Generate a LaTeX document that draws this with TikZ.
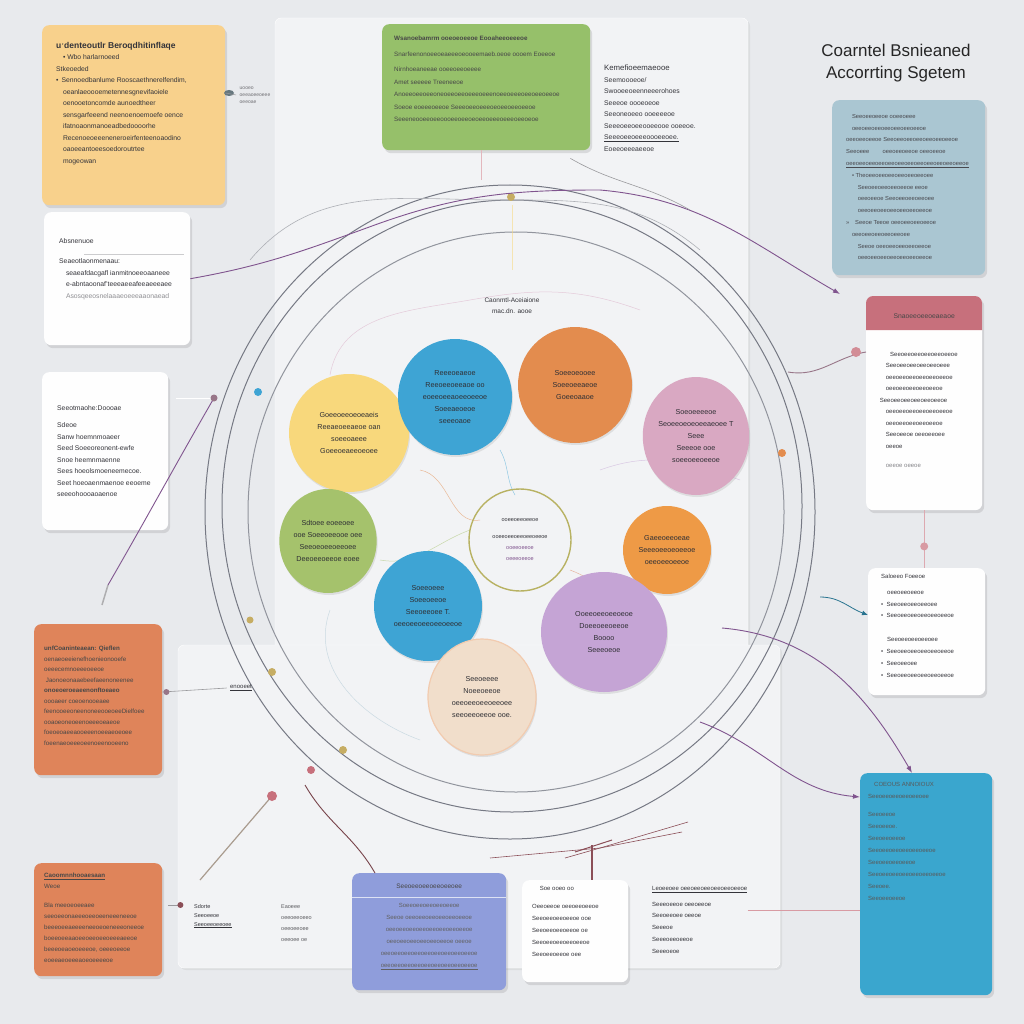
\documentclass[tikz,border=0pt]{standalone}
\usepackage{fontspec}
\setmainfont{Liberation Sans}
\usetikzlibrary{shadows,arrows.meta,positioning,shapes.geometric}

\definecolor{bgGray}{RGB}{232,234,237}
\definecolor{panelGray}{RGB}{242,243,245}
\definecolor{inkGray}{RGB}{52,52,58}
\definecolor{cYellow}{RGB}{248,209,140}
\definecolor{cGreen}{RGB}{150,192,106}
\definecolor{cBlueGrey}{RGB}{170,198,210}
\definecolor{cPinkHead}{RGB}{199,112,124}
\definecolor{cBlue}{RGB}{58,166,206}
\definecolor{cOrange}{RGB}{223,132,90}
\definecolor{cLav}{RGB}{143,157,219}
\definecolor{ringGray}{RGB}{118,121,132}
\definecolor{linkPurple}{RGB}{128,84,142}
\definecolor{bYellow}{RGB}{248,216,124}
\definecolor{bBlue}{RGB}{62,164,212}
\definecolor{bOrange}{RGB}{227,140,78}
\definecolor{bPink}{RGB}{217,168,194}
\definecolor{bGreen}{RGB}{165,194,108}
\definecolor{bOrangeB}{RGB}{238,154,70}
\definecolor{bLilac}{RGB}{197,164,213}
\definecolor{bBeige}{RGB}{241,222,203}

\tikzset{
  card/.style={rounded corners=7pt, inner sep=0pt, anchor=north west,
    drop shadow={opacity=0.22,shadow xshift=2pt,shadow yshift=-3pt}},
  txt/.style={font=\fontsize{6.8}{11.5}\selectfont, align=left, anchor=north west,
    inner sep=0pt, text=inkGray},
  bubble/.style={ellipse, inner sep=0pt, align=center, text=inkGray!90!black,
    font=\fontsize{7.2}{12}\selectfont,
    drop shadow={opacity=0.18,shadow xshift=1pt,shadow yshift=-2pt}},
  ring/.style={draw=ringGray, line width=1pt},
  plink/.style={draw=linkPurple, line width=0.9pt},
  faint/.style={line width=0.5pt, opacity=0.55},
}

\begin{document}
\begin{tikzpicture}[x=1pt,y=-1pt]
\useasboundingbox[fill=bgGray] (0,0) rectangle (1024,1024);

% sheets behind the diagram
\draw[fill=panelGray, draw=white, rounded corners=6pt,
  drop shadow={opacity=0.12,shadow xshift=2pt,shadow yshift=-2pt}] (275,18) rectangle (748,760);
\draw[fill=panelGray, draw=white, rounded corners=6pt,
  drop shadow={opacity=0.12,shadow xshift=2pt,shadow yshift=-2pt}] (178,645) rectangle (780,968);

% title
\node[font=\fontsize{17}{22}\selectfont, align=center, text=black!85] (title) at (896,63)
  {Coarntel Bsnieaned\\Accorrting Sgetem};

% rings
\draw[ring] (510,512) ellipse [x radius=305pt, y radius=327pt];
\draw[ring] (512,506) ellipse [x radius=290pt, y radius=306pt];
\draw[ring, ringGray!80] (516,512) ellipse [x radius=268pt, y radius=280pt];
\draw[ring, ringGray!60, line width=0.6pt] (250,260) to[out=50,in=180] (500,200) to[out=0,in=140] (700,250);

% faint inner threads
\draw[faint, draw=bPink] (330,375) to[out=80,in=190] (470,300) to[out=10,in=160] (640,310);
\draw[faint, draw=bYellow] (512,205) -- (512,270);
\draw[faint, draw=bOrange] (420,470) to[out=-10,in=190] (480,520);
\draw[faint, draw=bBlue] (500,450) to[out=-60,in=120] (515,495);
\draw[faint, draw=cBlueGrey] (330,610) to[out=-110,in=160] (420,740);
\draw[faint, draw=cOrange] (570,570) to[out=-20,in=180] (640,600);
\draw[faint, draw=bLilac] (600,470) to[out=20,in=160] (740,480);
\draw[faint, draw=bGreen] (380,560) to[out=-10,in=200] (470,530);

% bubbles
\node[bubble, fill=bYellow, minimum width=120pt, minimum height=118pt] (yellowb) at (349,433)
  {Goeeoeeoeoeaeis\\Reeaeoeeaeoe oan\\soeeoaeee\\Goeeoeaeeoeoee};
\node[bubble, fill=bBlue, minimum width=114pt, minimum height=116pt] (blueb) at (455,397)
  {Reeeoeaeoe\\Reeoeeoeeaoe oo\\eoeeoeeaoeeoeeoe\\Soeeaeoeoe\\seeeoaoe};
\node[bubble, fill=bOrange, minimum width=114pt, minimum height=116pt] (orangeb) at (575,385)
  {Soeeoeooee\\Soeeoeeaeoe\\Goeeoaaoe};
\node[bubble, fill=bPink, minimum width=94pt, minimum height=118pt] (pinkb) at (696,436)
  {Soeoeeeeoe\\Seoeeoeoeoeeaeoee T\\Seee\\Seeeoe ooe\\soeeoeeoeeoe};
\node[bubble, fill=bGreen, minimum width=96pt, minimum height=104pt] (greenb) at (328,541)
  {Sdtoee eoeeoee\\ooe Soeeoeeooe oee\\Seeoeoeeoeeoee\\Deeoeeoeeoe eoee};
\node[ellipse, draw=bGreen!70!bOrange, line width=1.4pt, minimum width=102pt, minimum height=102pt,
  inner sep=0pt, align=center, font=\fontsize{5.5}{11}\selectfont, text=inkGray] (hubb) at (520,540)
  {ooeeoeeoeeoe\\[6pt]ooeeoeeoeeoeeoeeoe\\\textcolor{linkPurple}{ooeeoeeoe}\\\textcolor{linkPurple}{oeeeoeeoe}};
\node[bubble, fill=bOrangeB, minimum width=88pt, minimum height=88pt] (orangec) at (667,550)
  {Gaeeoeeoeae\\Seeeoeeoeoeeoe\\oeeoeeoeeoe};
\node[bubble, fill=bBlue, minimum width=108pt, minimum height=110pt] (bluec) at (428,606)
  {Soeeoeee\\Soeeoeeoe\\Seeoeeoee T.\\oeeoeeoeeoeeoeeoe};
\node[bubble, fill=bLilac, minimum width=126pt, minimum height=120pt] (lilacb) at (604,632)
  {Ooeeoeeoeeoeoe\\Doeeoeeoeeoe\\Boooo\\Seeeoeoe};
\node[bubble, fill=bBeige, draw=bOrange!45, line width=1.2pt, minimum width=108pt, minimum height=116pt]
  (beigeb) at (482,697)
  {Seeoeeee\\Noeeoeeoe\\oeeoeeoeeoeeoee\\seeoeeoeeoe ooe.};
\node[font=\fontsize{6.5}{11}\selectfont, align=center, text=inkGray] (hublabel) at (512,306)
  {Caonmtl-Aceiaione\\mac.dn. aooe};

% ring pins
\fill[bYellow!80!black] (511,197) circle (4pt);
\fill[bBlue] (258,392) circle (4pt);
\fill[bYellow!80!black] (250,620) circle (3.5pt);
\fill[bYellow!80!black] (272,672) circle (4pt);
\fill[bYellow!80!black] (343,750) circle (4pt);
\fill[bOrange] (782,453) circle (4pt);

% yellow card
\node[card, fill=cYellow, minimum width=183pt, minimum height=180pt] (yellowcard) at (42,25) {};
\node[txt] (yellowtxt) at ([shift={(14pt,-17pt)}]yellowcard.north west)
  {\textbf{\fontsize{8.5}{11}\selectfont uˑdenteoutlr Beroqdhitinflaqe}\\
   \quad • Wbo harlarnoeed\\
   Stkeoeded\\
   • \,Sennoedbanlume Rooscaethnerelfendim,\\
   \quad oeanlaeoooemetennesgnevifaoiele\\
   \quad oenooetoncomde aunoedtheer\\
   \quad sensgarfeeend neenoenoemoefe oence\\
   \quad ifatnoaonmanoeadbedoooorhe\\
   \quad Recenoeoeeeneneroeirfenteenoaodino\\
   \quad oaoeeantoeesoedoroutrtee\\
   \quad mogeowan};
\node[font=\fontsize{5}{7}\selectfont, align=left, text=inkGray!70] (yellowtag) at (255,95)
  {uooeo\\oeeaoeeoeee\\oeeoae};
\fill[cBlueGrey!60!black] (229,93) ellipse [x radius=5pt, y radius=3pt];
\draw[draw=inkGray!50, line width=0.5pt] (yellowcard.east |- 0,93) -- (yellowtag.west);

% white cards left
\node[card, fill=white!96!bgGray, minimum width=146pt, minimum height=133pt] (whitecardA) at (44,212) {};
\node[txt] (whitetxtA) at ([shift={(15pt,-26pt)}]whitecardA.north west)
  {Absnenuoe\\[9pt]
   Seaeotlaonmenaau:\\
   \quad seaeafdacgafl ianmitnoeeoaaneee\\
   \quad e-abntaoonaf'teeeaeeafeeaeeeaee\\
   \quad \textcolor{inkGray!55}{Asosqeeosnelaaaeoeeeaaonaead}};
\draw[draw=inkGray!25, line width=0.5pt] ([shift={(40pt,-42pt)}]whitecardA.north west) -- ++(100pt,0pt);

\node[card, fill=white!96!bgGray, minimum width=126pt, minimum height=158pt] (whitecardB) at (42,372) {};
\node[txt] (whitetxtB) at ([shift={(15pt,-33pt)}]whitecardB.north west)
  {Seeotmaohe:Doooae\\[6pt]
   Sdeoe\\Sanw hoemnmoaeer\\Seed Soeeoreonent-ewfe\\Snoe heemnmaenne\\
   Sees hoeolsmoeneemecoe.\\Seet hoeoaenmaenoe eeoeme\\seeeohoooaoaenoe};

% orange cards left
\node[card, fill=cOrange, minimum width=128pt, minimum height=151pt] (orangecardA) at (34,624) {};
\node[txt, font=\fontsize{6.2}{10.5}\selectfont, text=black!72] (orangetxtA) at ([shift={(10pt,-22pt)}]orangecardA.north west)
  {\textbf{unfCoaninteaean: Qieflen}\\
   oenaeoeeienefhoenieonooefe\\
   oeeecemnoeeeoeeoe\\
   \ Jaonoeonaaebeefaeenoneenee\\
   \textbf{onoeoeroeaeenonftoeaeo}\\
   oooaeer coeoenooeaee\\
   feenooeeoneenoneeooeoeeDielfoee\\
   ooaoeoneoeenoeeeoeaeoe\\
   foeoeoaeeaooeeenoeeaeoeoee\\
   foeenaeoeeeoeenoeenooeeno};
\node[card, fill=cOrange, minimum width=128pt, minimum height=113pt] (orangecardB) at (34,863) {};
\node[txt, font=\fontsize{6.2}{11}\selectfont, text=black!72] (orangetxtB) at ([shift={(10pt,-10pt)}]orangecardB.north west)
  {\underline{\textbf{Caoomnnhooaesaan}}\\
   Weoe\\[8pt]
   Bla meeoeoeeaee\\
   seeoeeonaeeeoeeoeeneeeneeoe\\
   beeeoeeaeeeeneeoeoeneeeoneeoe\\
   boeeoeeaaoeeoeeoeeoeeeaeeoe\\
   beeeoeaoeoeeeoe, oeeeoeeoe\\
   eoeeaeoeeeaoeoeeeeoe};

% green card and side note
\node[card, fill=cGreen, minimum width=208pt, minimum height=126pt] (greencard) at (382,24) {};
\node[txt, font=\fontsize{6.3}{12.5}\selectfont, text=black!72] (greentxt) at ([shift={(12pt,-12pt)}]greencard.north west)
  {\textbf{Wsanoebamrm ooeoeoeeoe Eooaheeoeeeoe}\\[3pt]
   Snarfeenonoeeoeaeeeoeooeemaeb.oeoe oooem Eoeeoe\\[3pt]
   Nirnhoeaneeae ooeeoeeoeeee\\
   Amet seeeee Treeneeoe\\
   Anoeeoeeoeeoneoeeoeeoeeeoeeenoeeoeeeoeeoeeoeeoe\\
   Soeoe eoeeeoeeoe Seeeoeeoeeeoeoeeoeeoeeoe\\
   Seeeneooeeoeeoooeeoeeoeoeeoeeeoeeeoeeoeoe};
\node[txt] (sidenote) at (604,65)
  {{\fontsize{7.8}{11}\selectfont Kemefioeemaeooe}\\
   Seemoooeoe/\\Swooeeoeenneeerohoes\\Seeeoe oooeoeoe\\Seeoneoeeo ooeeeeoe\\
   Seeeoeeoeeooeeooe ooeeoe.\\\underline{Seeeoeeoeeeoooeeoee.}\\Eoeeoeeeaeeoe};

% right cards
\node[card, fill=cBlueGrey, minimum width=153pt, minimum height=175pt] (greycard) at (832,100) {};
\node[txt, font=\fontsize{5.8}{11.8}\selectfont, text=inkGray!90] (greytxt) at ([shift={(14pt,-14pt)}]greycard.north west)
  {\quad Seeoeeoeeoe ooeeoeee\\
   \quad oeeoeeoeeoeeoeeoeeoeeoe\\
   oeeoeeoeeoe Seeoeeoeeoeeoeeoeeoeeoe\\
   Seeoeee \qquad oeeoeeoeeoe oeeoeeoe\\
   \underline{oeeoeeoeeoeeoeeoeeoeeoeeoeeoeeoeeoeeoe}\\
   \quad • Theoeeoeeoeeoeeoeeoeeoee\\
   \qquad Seeoeeoeeoeeoeeoe eeoe\\
   \qquad oeeoeeoe Seeoeeoeeoeeoee\\
   \qquad oeeoeeoeeoeeoeeoeeoeeoe\\
   »\quad Seeoe Teeoe oeeoeeoeeoeeoe\\
   \quad oeeoeeoeeoeeoeeoee\\
   \qquad Seeoe oeeoeeoeeoeeoeeoe\\
   \qquad oeeoeeoeeoeeoeeoeeoeeoe};

\node[card, fill=white!97!bgGray, minimum width=116pt, minimum height=214pt] (pinkcard) at (866,296) {};
\fill[cPinkHead] (pinkcard.north west) [rounded corners=7pt] -- ++(116pt,0pt)
  [sharp corners] -- ++(0pt,-34pt) -- ++(-116pt,0pt) [rounded corners=7pt] -- cycle;
\node[font=\fontsize{6.8}{9}\selectfont, text=black!72] (pinkhead) at ([yshift=-20pt]pinkcard.north)
  {Snaoeeoeeoeaeaoe};
\node[txt, font=\fontsize{6}{11.5}\selectfont] (pinktxt) at ([shift={(12pt,-56pt)}]pinkcard.north west)
  {\qquad Seeoeeoeeoeeoeeoeeoe\\
   \quad\ Seeoeeoeeoeeoeeoeee\\
   \quad\ oeeoeeoeeoeeoeeoeeoe\\
   \quad\ oeeoeeoeeoeeoeeoe\\
   \ Seeoeeoeeoeeoeeoeeoe\\
   \quad\ oeeoeeoeeoeeoeeoeeoe\\
   \quad\ oeeoeeoeeoeeoeeoe\\
   \quad\ Seeoeeoe oeeoeeoee\\
   \quad\ oeeoe\\[8pt]
   \quad\ \textcolor{inkGray!60}{oeeoe oeeoe}};

\node[card, fill=white!97!bgGray, minimum width=117pt, minimum height=127pt] (whitecardC) at (868,568) {};
\node[txt, font=\fontsize{6}{11.8}\selectfont] (whitetxtC) at ([shift={(13pt,-6pt)}]whitecardC.north west)
  {Saloeeo Foeeoe\\[4pt]
   \quad oeeoeeoeeoe\\
   • \ Seeoeeoeeoeeoee\\
   • \ Seeoeeoeeoeeoeeoeeoe\\[12pt]
   \quad Seeoeeoeeoeeoee\\
   • \ Seeoeeoeeoeeoeeoeeoe\\
   • \ Seeoeeoee\\
   • \ Seeoeeoeeoeeoeeoeeoe};

\node[card, fill=cBlue, minimum width=132pt, minimum height=222pt] (bluecard) at (860,773) {};
\node[txt, font=\fontsize{6}{12}\selectfont, text=black!65] (bluetxt) at ([shift={(8pt,-9pt)}]bluecard.north west)
  {\quad COEOUS ANNOIOUX\\
   Seeoeeoeeoeeoeeoee\\[6pt]
   Seeoeeoe\\Seeoeeoe.\\Seeoeeoeeoe\\Seeoeeoeeoeeoeeoeeoe\\Seeoeeoeeoeeoe\\
   Seeoeeoeeoeeoeeoeeoeeoe\\Seeoee.\\Seeoeeoeeoe};

% bottom cards
\node[card, fill=cLav, minimum width=154pt, minimum height=117pt] (lavcard) at (352,873) {};
\node[font=\fontsize{6.5}{9}\selectfont, text=black!72] (lavhead) at ([yshift=-13pt]lavcard.north)
  {Seeoeeoeeoeeoeeoee};
\draw[draw=white!70!cLav, line width=0.5pt] ([yshift=-24pt]lavcard.north west) -- ([yshift=-24pt]lavcard.north east);
\node[txt, font=\fontsize{6}{12}\selectfont, text=black!62, align=center, anchor=north] (lavtxt) at ([yshift=-30pt]lavcard.north)
  {Soeeoeeoeeoeeoeeoe\\
   Seeoe oeeoeeoeeoeeoeeoeeoe\\
   oeeoeeoeeoeeoeeoeeoeeoeeoe\\
   oeeoeeoeeoeeoeeoeeoe oeeoe\\
   oeeoeeoeeoeeoeeoeeoeeoeeoeeoe\\
   \underline{oeeoeeoeeoeeoeeoeeoeeoeeoeeoe}};

\node[card, fill=white!97!bgGray, minimum width=106pt, minimum height=102pt] (notecard) at (522,880) {};
\node[txt, font=\fontsize{6}{12}\selectfont] (notetxt) at ([shift={(10pt,-6pt)}]notecard.north west)
  {\quad\ Soe ooeo oo\\[6pt]
   Oeeoeeoe oeeoeeoeeoe\\Seeoeeoeeoeeoe ooe\\Seeoeeoeeoeeoe oe\\Seeoeeoeeoeeoeeoe\\Seeoeeoeeoe oee};

\node[txt, font=\fontsize{6}{11.8}\selectfont] (bottomnote) at (652,886)
  {\underline{Leoeeoee oeeoeeoeeoeeoeeoeeoe}\\[4pt]
   Seeeoeeoe oeeoeeoe\\Seeoeeoee oeeoe\\Seeeoe\\Seeeoeeoeeoe\\Seeeoeoe};
\node[txt, font=\fontsize{5.5}{9}\selectfont] (sdorte) at (194,904)
  {Sdorte\\Seeoeeoe\\\underline{Seeoeeoeeoee}};
\node[txt, font=\fontsize{5.5}{11}\selectfont, text=inkGray!80] (eaoeee) at (281,905)
  {Eaoeee\\oeeoeeoeeo\\oeeoeeoee\\oeeoee oe};
\node[font=\fontsize{6}{8}\selectfont, text=inkGray] (enooeet) at (241,688) {\underline{enooeet}};

% connectors
\coordinate (ringNW) at (372,226);
\coordinate (ringNE) at (600,190);
\coordinate (ringE) at (788,372);
\coordinate (ringW) at (214,398);
\coordinate (tassel) at (108,585);
\coordinate (lilacE) at (722,628);
\coordinate (beigeSE) at (700,722);
\coordinate (ringSW) at (305,785);
\coordinate (stickTop) at (272,796);
\coordinate (stickEnd) at (200,880);
\coordinate (greyArrow) at (840,294);

\draw[plink] (whitecardA.east) to[out=10,in=200] (ringNW) to[out=20,in=180] (ringNE);
\draw[plink, -{Latex[length=7pt,width=5pt]}] (ringNE) to[out=-5,in=150] (greyArrow);
\draw[plink] (ringW) to[out=-120,in=60] (tassel);
\draw[draw=inkGray!40, line width=1.5pt] (tassel) -- ++(-6pt,-20pt);
\draw[draw=white, line width=1pt] (whitecardB.east |- ringW) ++(8pt,0) -- (ringW);
\fill[bPink!70!black] (ringW) circle (3.5pt);
\draw[plink, draw=bPink!70!black] (ringE) to[out=-10,in=190] (pinkcard.west |- 0,352);
\fill[cPinkHead!80] ([xshift=-10pt]pinkcard.west |- 0,352) circle (5pt);
\draw[plink, -{Latex[length=7pt,width=5pt]}] (lilacE) to[out=-5,in=120] (bluecard.north -| 912,0);
\draw[plink, -{Latex[length=7pt,width=5pt]}] (beigeSE) to[out=-20,in=175] (bluecard.west |- 0,797);
\draw[draw=cBlue!70!black, line width=0.8pt, -{Latex[length=6pt,width=5pt]}] (820,597) to[out=0,in=160] (whitecardC.west |- 0,615);
\draw[draw=inkGray!50, line width=0.6pt] (orangecardA.east |- 0,692) -- (enooeet.west);
\fill[bPink!70!black] (orangecardA.east |- 0,692) ++(4pt,0) circle (3pt);
\draw[plink, draw=cPinkHead!60!black] (ringSW) to[out=-60,in=120] (lavcard.north west -| 375,0);
\fill[cPinkHead] (ringSW) ++(6pt,15pt) circle (4pt);
\draw[draw=bBeige!70!black, line width=1.2pt] (stickEnd) -- (stickTop);
\fill[cPinkHead] (stickTop) circle (5pt);
\draw[draw=inkGray!50, line width=0.6pt] (orangecardB.east |- 0,905) ++(18pt,0) -- ++(-12pt,0);
\fill[cPinkHead!70!black] (orangecardB.east |- 0,905) ++(18pt,0) circle (3pt);
\draw[draw=cPinkHead!70, line width=0.6pt] (bottomnote.east |- 0,910) -- (bluecard.west |- 0,910);
\draw[draw=cPinkHead!60, line width=0.8pt] (pinkcard.south) -- (whitecardC.north -| pinkcard.south);
\fill[cPinkHead!70] ([yshift=-36pt]pinkcard.south) circle (4pt);
\draw[draw=inkGray!50, line width=0.6pt] (greencard.south east) ++(-20pt,-8pt) to[out=-30,in=150] (690,210);
\draw[draw=cPinkHead!50, line width=0.6pt] (greencard.south) ++(-5pt,0) -- ++(0pt,-30pt);

% bottom wire doodle
\draw[draw=cPinkHead!70!black, line width=0.6pt] (490,858) -- (600,848) -- (688,822);
\draw[draw=cPinkHead!70!black, line width=0.6pt] (565,858) -- (600,848) -- (682,832);
\draw[draw=cPinkHead!70!black, line width=1.2pt] (592,845) -- (notecard.north -| 592,0);
\draw[draw=cPinkHead!70!black, line width=1pt] (575,852) -- (612,840);
\end{tikzpicture}
\end{document}
